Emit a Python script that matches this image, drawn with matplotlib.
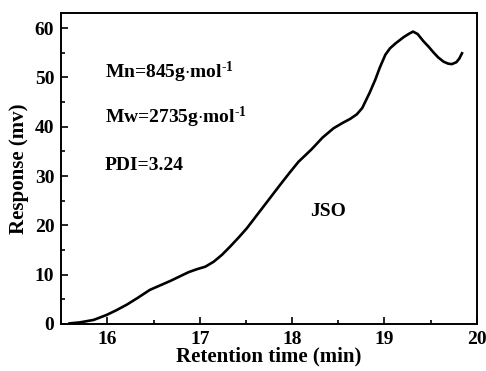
import matplotlib
matplotlib.use("Agg")
import matplotlib.pyplot as plt
from matplotlib.ticker import MultipleLocator

# GPC trace
time_min = [15.59, 15.70, 15.85, 15.99, 16.10, 16.21, 16.33, 16.46, 16.57, 16.68,
            16.78, 16.88, 16.97, 17.06, 17.15, 17.24, 17.33, 17.42, 17.51, 17.60,
            17.69, 17.78, 17.87, 17.97, 18.07, 18.21, 18.33, 18.45, 18.55, 18.63,
            18.70, 18.76, 18.84, 18.90, 18.95, 19.01, 19.06, 19.12, 19.21, 19.27,
            19.31, 19.36, 19.42, 19.48, 19.53, 19.58, 19.64, 19.69, 19.73, 19.78,
            19.81, 19.84]
response_mv = [0.1, 0.3, 0.8, 1.8, 2.8, 3.9, 5.3, 6.9, 7.8, 8.7,
               9.6, 10.5, 11.1, 11.6, 12.6, 14.0, 15.7, 17.5, 19.4, 21.6,
               23.8, 26.0, 28.2, 30.6, 32.9, 35.4, 37.8, 39.7, 40.8, 41.6,
               42.5, 43.8, 46.9, 49.5, 52.0, 54.6, 55.9, 56.9, 58.2, 58.9,
               59.3, 58.8, 57.4, 56.2, 55.1, 54.1, 53.2, 52.8, 52.7, 53.1,
               53.8, 54.9]

notes = ["Mn=845g$\\cdot$mol$^{\\text{-1}}$", "Mw=2735g$\\cdot$mol$^{\\text{-1}}$", "PDI=3.24"]
note_y = [51.1, 41.8, 32.2]
sample_name = "JSO"

plt.rcParams['font.family'] = ['Liberation Serif', 'DejaVu Serif']
plt.rcParams['font.weight'] = 'bold'
plt.rcParams['mathtext.fontset'] = 'custom'
plt.rcParams['mathtext.rm'] = 'Liberation Serif:bold'
plt.rcParams['mathtext.it'] = 'Liberation Serif:bold'
plt.rcParams['mathtext.bf'] = 'Liberation Serif:bold'

fig = plt.figure(figsize=(4.86, 3.71), dpi=100)
ax = fig.add_axes([0.126, 0.127, 0.855, 0.837])

ax.plot(time_min, response_mv, color='black', lw=1.9, solid_joinstyle='round')

for txt, y in zip(notes, note_y):
    ax.text(15.97, y, txt, fontsize=14, fontweight='bold', va='center', ha='left')
ax.text(18.39, 22.7, sample_name, fontsize=14, fontweight='bold', va='center', ha='center')

ax.set_xlim(15.5, 20)
ax.set_ylim(0, 63)
ax.xaxis.set_major_locator(MultipleLocator(1))
ax.xaxis.set_minor_locator(MultipleLocator(0.5))
ax.yaxis.set_major_locator(MultipleLocator(10))
ax.yaxis.set_minor_locator(MultipleLocator(5))
ax.tick_params(which='both', direction='in', width=1.2, labelsize=14)
ax.tick_params(which='major', length=5, pad=5)
ax.tick_params(which='minor', length=3)
for lab in ax.get_xticklabels() + ax.get_yticklabels():
    lab.set_fontweight('bold')
for sp in ax.spines.values():
    sp.set_linewidth(1.4)

ax.set_xlabel('Retention time (min)', fontsize=15, fontweight='bold', labelpad=-1)
ax.set_ylabel('Response (mv)', fontsize=15, fontweight='bold', labelpad=4)

fig.savefig('out.png', dpi=100)
